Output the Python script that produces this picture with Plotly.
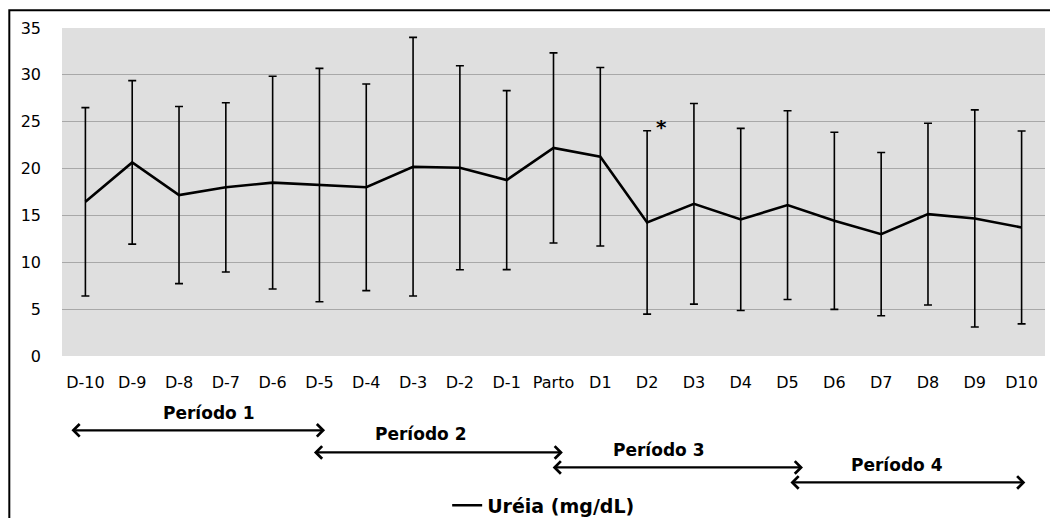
import plotly.graph_objects as go

# ---- data ----
categories = ["D-10", "D-9", "D-8", "D-7", "D-6", "D-5", "D-4", "D-3", "D-2", "D-1",
              "Parto", "D1", "D2", "D3", "D4", "D5", "D6", "D7", "D8", "D9", "D10"]
ureia_mean = [16.45, 20.66, 17.17, 18.0, 18.5, 18.24, 18.0, 20.2, 20.09, 18.77,
              22.2, 21.26, 14.25, 16.24, 14.57, 16.1, 14.43, 13.0, 15.14, 14.68, 13.72]
ureia_sd = [10.05, 8.72, 9.45, 9.03, 11.35, 12.45, 11.02, 13.8, 10.88, 9.55,
            10.15, 9.53, 9.78, 10.7, 9.72, 10.07, 9.45, 8.71, 9.7, 11.58, 10.29]
y_ticks = [0, 5, 10, 15, 20, 25, 30, 35]

period_labels = ["Período 1", "Período 2", "Período 3", "Período 4"]
period_start = [-0.33, 4.85, 9.95, 15.03]   # category-index positions
period_end = [5.12, 10.2, 15.33, 20.08]
period_text_x = [2.64, 7.15, 12.25, 17.34]

signif_category = "D2"
signif_mark = "*"
series_name = "Uréia (mg/dL)"

FONT = "DejaVu Sans"

fig = go.Figure()
fig.add_trace(go.Scatter(
    x=categories, y=ureia_mean, mode="lines", name="<b>" + series_name + "</b>",
    line=dict(color="black", width=2.6),
    error_y=dict(type="data", array=ureia_sd, visible=True,
                 color="black", thickness=1.6, width=4),
))

# period arrows and labels
period_arrow_y = [-0.2267, -0.2939, -0.3397, -0.3855]
period_text_y = [-0.175, -0.239, -0.288, -0.3335]
for lab, s, e, tx, ay, ty in zip(period_labels, period_start, period_end,
                                 period_text_x, period_arrow_y, period_text_y):
    fig.add_annotation(x=e, y=ay, ax=s, ay=0, xref="x", yref="paper",
                       axref="x", ayref="pixel", text="", showarrow=True,
                       arrowhead=4, startarrowhead=4, arrowside="end+start",
                       arrowsize=1.1, startarrowsize=1.1, arrowwidth=2.2,
                       arrowcolor="black")
    fig.add_annotation(x=tx, y=ty, xref="x", yref="paper", text="<b>" + lab + "</b>",
                       showarrow=False, font=dict(family=FONT, size=17, color="black"),
                       yanchor="middle")

# significance asterisk
sig_i = categories.index(signif_category)
fig.add_annotation(x=signif_category, y=ureia_mean[sig_i] + ureia_sd[sig_i],
                   xref="x", yref="y", text="<b>" + signif_mark + "</b>",
                   showarrow=False, xshift=14, yshift=4,
                   font=dict(family=FONT, size=20, color="black"))

# outer frame
fig.add_shape(type="rect", xref="paper", yref="paper",
              x0=-0.0536, x1=1.1, y0=-0.7, y1=1.054,
              line=dict(color="black", width=2), fillcolor="rgba(0,0,0,0)", layer="above")

fig.update_layout(
    width=1050, height=510,
    margin=dict(l=54, r=13, t=20, b=162, autoexpand=False),
    paper_bgcolor="white", plot_bgcolor="#dfdfdf",
    font=dict(family=FONT, size=16, color="black"),
    showlegend=True,
    legend=dict(orientation="h", x=0.49, y=-0.4557, xanchor="center", yanchor="middle",
                font=dict(family=FONT, size=19, color="black"),
                bgcolor="rgba(0,0,0,0)", itemwidth=30),
)
fig.update_xaxes(type="category", range=[-0.5, len(categories) - 0.5], autorange=False,
                 automargin=False, showgrid=False, zeroline=False, showline=False,
                 ticks="", ticklabelstandoff=15,
                 tickfont=dict(family=FONT, size=16, color="black"))
fig.update_yaxes(range=[0, 35], autorange=False, automargin=False, tickvals=y_ticks,
                 showgrid=True, gridcolor="#a8a8a8",
                 gridwidth=1.2, zeroline=False, showline=False, ticks="",
                 ticklabelstandoff=20, tickfont=dict(family=FONT, size=16, color="black"))

fig.write_html("out.html")
